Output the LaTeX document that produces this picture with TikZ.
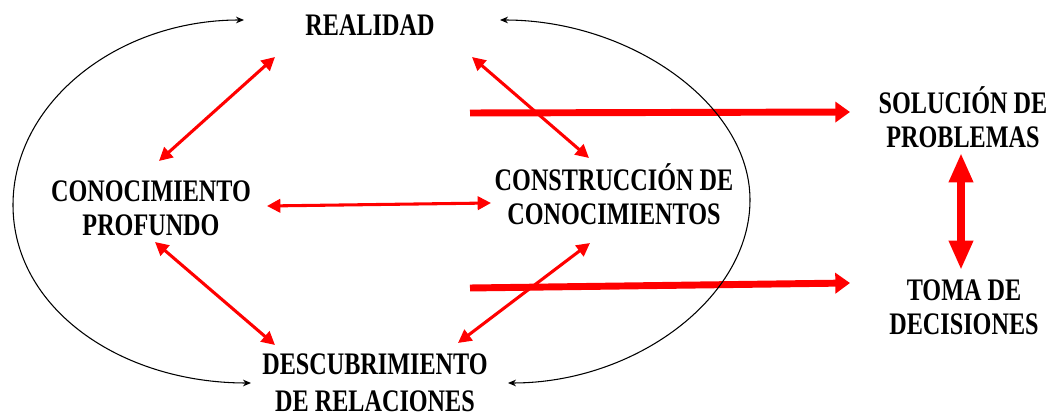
\documentclass[tikz,border=0pt]{standalone}
\usepackage{fontspec}
\setmainfont{Liberation Serif}[FakeStretch=0.772]
\usetikzlibrary{arrows.meta}
\begin{document}
\begin{tikzpicture}[x=0.75pt,y=-0.75pt,
  lbl/.style={font=\fontsize{23.5}{25.5}\selectfont\bfseries, align=center, inner sep=0pt},
  redtwo/.style={draw=red, line width=2.3pt, {Triangle[length=10pt,width=10pt]}-{Triangle[length=10pt,width=10pt]}},
  bigarrow/.style={draw=red, line width=5.2pt, -{Triangle[length=11pt,width=15pt]}},
  bigtwo/.style={draw=red, line width=6pt, {Triangle[length=22pt,width=17pt]}-{Triangle[length=22pt,width=17pt]}},
  loop/.style={draw=black, line width=0.8pt, -{Stealth[length=6pt,width=5pt]}}]
\useasboundingbox (0,0) rectangle (1054,416);
\node[lbl] (real) at (370,25.5) {REALIDAD};
\node[lbl, font=\fontsize{23.5}{25.5}\selectfont\bfseries] (cp) at (151,208) {CONOCIMIENTO\\PROFUNDO};
\node[lbl, font=\fontsize{23.5}{25.1}\selectfont\bfseries] (cc) at (614,194) {CONSTRUCCIÓN DE\\CONOCIMIENTOS};
\node[lbl, font=\fontsize{23.5}{27.6}\selectfont\bfseries] (dr) at (375,383) {DESCUBRIMIENTO\\DE RELACIONES};
\node[lbl, font=\fontsize{23.5}{25.1}\selectfont\bfseries] (sp) at (963,117) {SOLUCIÓN DE\\PROBLEMAS};
\node[lbl, font=\fontsize{23.5}{25.5}\selectfont\bfseries] (td) at (964,307) {TOMA DE\\DECISIONES};
% connector end points
\coordinate (rl) at (275,57);
\coordinate (rr) at (472,57);
\coordinate (cpt) at (159,161);
\coordinate (cpr) at (267,206);
\coordinate (cpb) at (155,242);
\coordinate (cct) at (589,158);
\coordinate (ccl) at (491,203);
\coordinate (ccb) at (590,243);
\coordinate (drl) at (275,345);
\coordinate (drr) at (458,343);
\coordinate (s1) at (470,113);
\coordinate (spl) at (850,112);
\coordinate (s2) at (470,288);
\coordinate (tdl) at (850,283);
\coordinate (spb) at (961,153);
\coordinate (tdt) at (961,270);
\coordinate (lt) at (244,20);
\coordinate (lm) at (13,205);
\coordinate (lb) at (251,383);
\coordinate (rt) at (500,20);
\coordinate (rm) at (750,200);
\coordinate (rb) at (508,383);
% red links
\draw[redtwo] (rl) -- (cpt);
\draw[redtwo] (rr) -- (cct);
\draw[redtwo] (cpr) -- (ccl);
\draw[redtwo] (cpb) -- (drl);
\draw[redtwo] (ccb) -- (drr);
\draw[bigarrow] (s1) -- (spl);
\draw[bigarrow] (s2) -- (tdl);
\draw[bigtwo] (spb) -- (tdt);
% black loops
\draw[loop] (lm) .. controls (13,103) and (117,20) .. (lt);
\draw[loop] (lm) .. controls (13,308) and (120,383) .. (lb);
\draw[loop] (rm) .. controls (750,104) and (630,20) .. (rt);
\draw[loop] (rm) .. controls (750,298) and (635,383) .. (rb);
\end{tikzpicture}
\end{document}
